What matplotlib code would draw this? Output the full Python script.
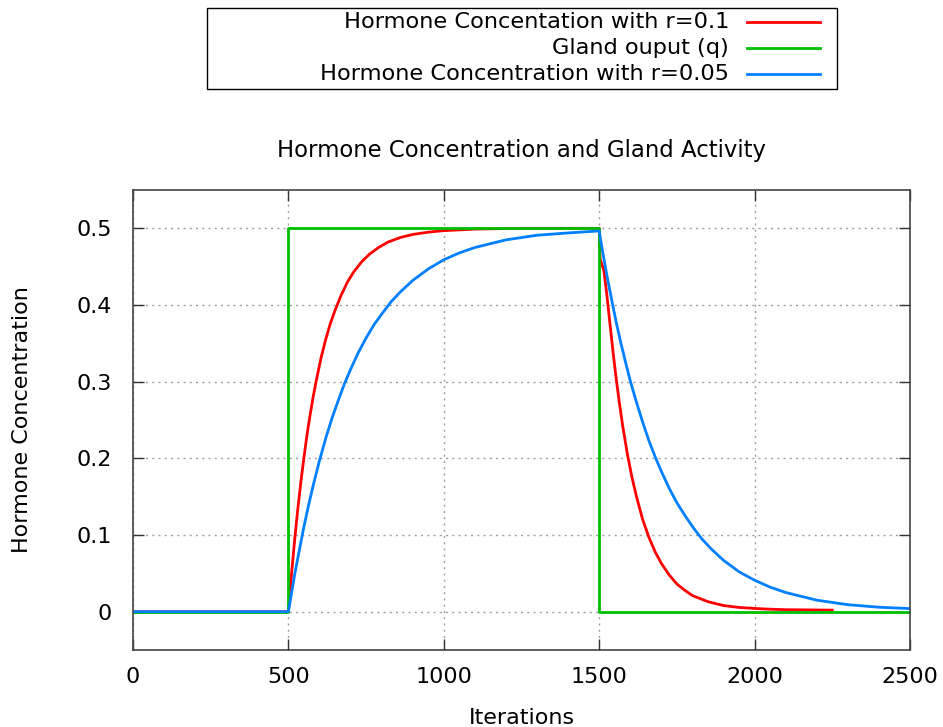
import matplotlib
matplotlib.use("Agg")
import matplotlib.pyplot as plt
from matplotlib.lines import Line2D
from matplotlib.patches import Rectangle

# gland output q (square pulse)
gland_x = [0, 500, 500, 1500, 1500, 2500]
gland_y = [0, 0, 0.5, 0.5, 0, 0]

# hormone concentration, r = 0.1
red_x = [0, 500, 510, 520, 530, 540, 550, 560, 570, 580, 590, 605, 620, 635,
         650, 670, 690, 710, 735, 760, 790, 820, 860, 900, 950, 1000, 1100,
         1250, 1500,
         1503, 1515, 1525, 1535, 1545, 1555, 1565, 1575, 1590, 1605, 1620,
         1640, 1660, 1680, 1700, 1725, 1750, 1775, 1800, 1850, 1900, 1950,
         2000, 2050, 2100, 2250]
red_y = [0, 0, 0.049, 0.093, 0.133, 0.169, 0.201, 0.231, 0.257, 0.281, 0.302,
         0.331, 0.355, 0.376, 0.393, 0.413, 0.430, 0.443, 0.456, 0.466, 0.475,
         0.482, 0.488, 0.492, 0.495, 0.497, 0.499,
         0.5, 0.5,
         0.46, 0.445, 0.412, 0.374, 0.337, 0.303, 0.272, 0.244, 0.207, 0.176,
         0.150, 0.120, 0.097, 0.078, 0.063, 0.048, 0.036, 0.028, 0.021, 0.013,
         0.008, 0.0055, 0.0042, 0.0032, 0.0026, 0.002]

# hormone concentration, r = 0.05
blue_x = [0, 500, 510, 520, 535, 550, 565, 580, 600, 620, 640, 660, 680, 700,
          725, 750, 775, 800, 830, 860, 900, 950, 1000, 1050, 1100, 1200,
          1300, 1400, 1500,
          1510, 1525, 1540, 1555, 1570, 1585, 1600, 1620, 1640, 1660, 1680,
          1700, 1725, 1750, 1775, 1800, 1830, 1860, 1900, 1950, 2000, 2050,
          2100, 2200, 2300, 2400, 2500]
blue_y = [0, 0, 0.024, 0.048, 0.080, 0.111, 0.139, 0.165, 0.197, 0.226,
          0.252, 0.275, 0.297, 0.316, 0.338, 0.357, 0.374, 0.388, 0.404,
          0.417, 0.432, 0.447, 0.459, 0.468, 0.475, 0.485, 0.491, 0.494,
          0.4966,
          0.472, 0.438, 0.407, 0.377, 0.350, 0.325, 0.301, 0.273, 0.247,
          0.223, 0.202, 0.183, 0.161, 0.142, 0.126, 0.111, 0.095, 0.082,
          0.067, 0.052, 0.041, 0.032, 0.025, 0.015, 0.0091, 0.0058, 0.004]

x_ticks = [0, 500, 1000, 1500, 2000, 2500]
y_ticks = [0, 0.1, 0.2, 0.3, 0.4, 0.5]
y_tick_labels = ["0", "0.1", "0.2", "0.3", "0.4", "0.5"]

labels = ["Hormone Concentation with r=0.1", "Gland ouput (q)",
          "Hormone Concentration with r=0.05"]
colors = ["#ff0000", "#00c000", "#0080ff"]

plt.rcParams["font.family"] = "DejaVu Sans"

fig = plt.figure(figsize=(9.43, 7.27), dpi=100)
ax = fig.add_axes([133 / 943, 77 / 727, 777 / 943, 460 / 727])

ax.plot(red_x, red_y, color=colors[0], lw=2)
ax.plot(gland_x, gland_y, color=colors[1], lw=2)
ax.plot(blue_x, blue_y, color=colors[2], lw=2)

ax.set_xlim(0, 2500)
ax.set_ylim(-0.05, 0.55)
ax.set_xticks(x_ticks)
ax.set_yticks(y_ticks)
ax.set_yticklabels(y_tick_labels)
ax.tick_params(direction="in", length=8, width=1, top=True, right=True,
               labelsize=16, color="#333333")
ax.tick_params(axis="y", pad=15)
ax.tick_params(axis="x", pad=12)
ax.grid(True, color="#a0a0a0", linestyle=(0, (1.5, 3)), linewidth=1)
for s in ax.spines.values():
    s.set_color("#444444")
    s.set_linewidth(1.2)

ax.set_title("Hormone Concentration and Gland Activity", fontsize=16.4, pad=24)
ax.set_xlabel("Iterations", fontsize=16, labelpad=15)
ax.set_ylabel("Hormone Concentration", fontsize=16, labelpad=32)

# gnuplot-style key box at the top
fig.add_artist(Rectangle((207 / 943, 1 - 89 / 727), 630 / 943, 81 / 727,
                         transform=fig.transFigure, fill=False,
                         edgecolor="black", lw=1))
for i, (lab, c) in enumerate(zip(labels, colors)):
    yy = 1 - (21.5 + i * 26.3) / 727
    fig.text(729 / 943, yy, lab, ha="right", va="center", fontsize=16.2)
    fig.add_artist(Line2D([747 / 943, 820 / 943], [yy, yy],
                          transform=fig.transFigure, color=c, lw=2))

fig.savefig("out.png", dpi=100)
